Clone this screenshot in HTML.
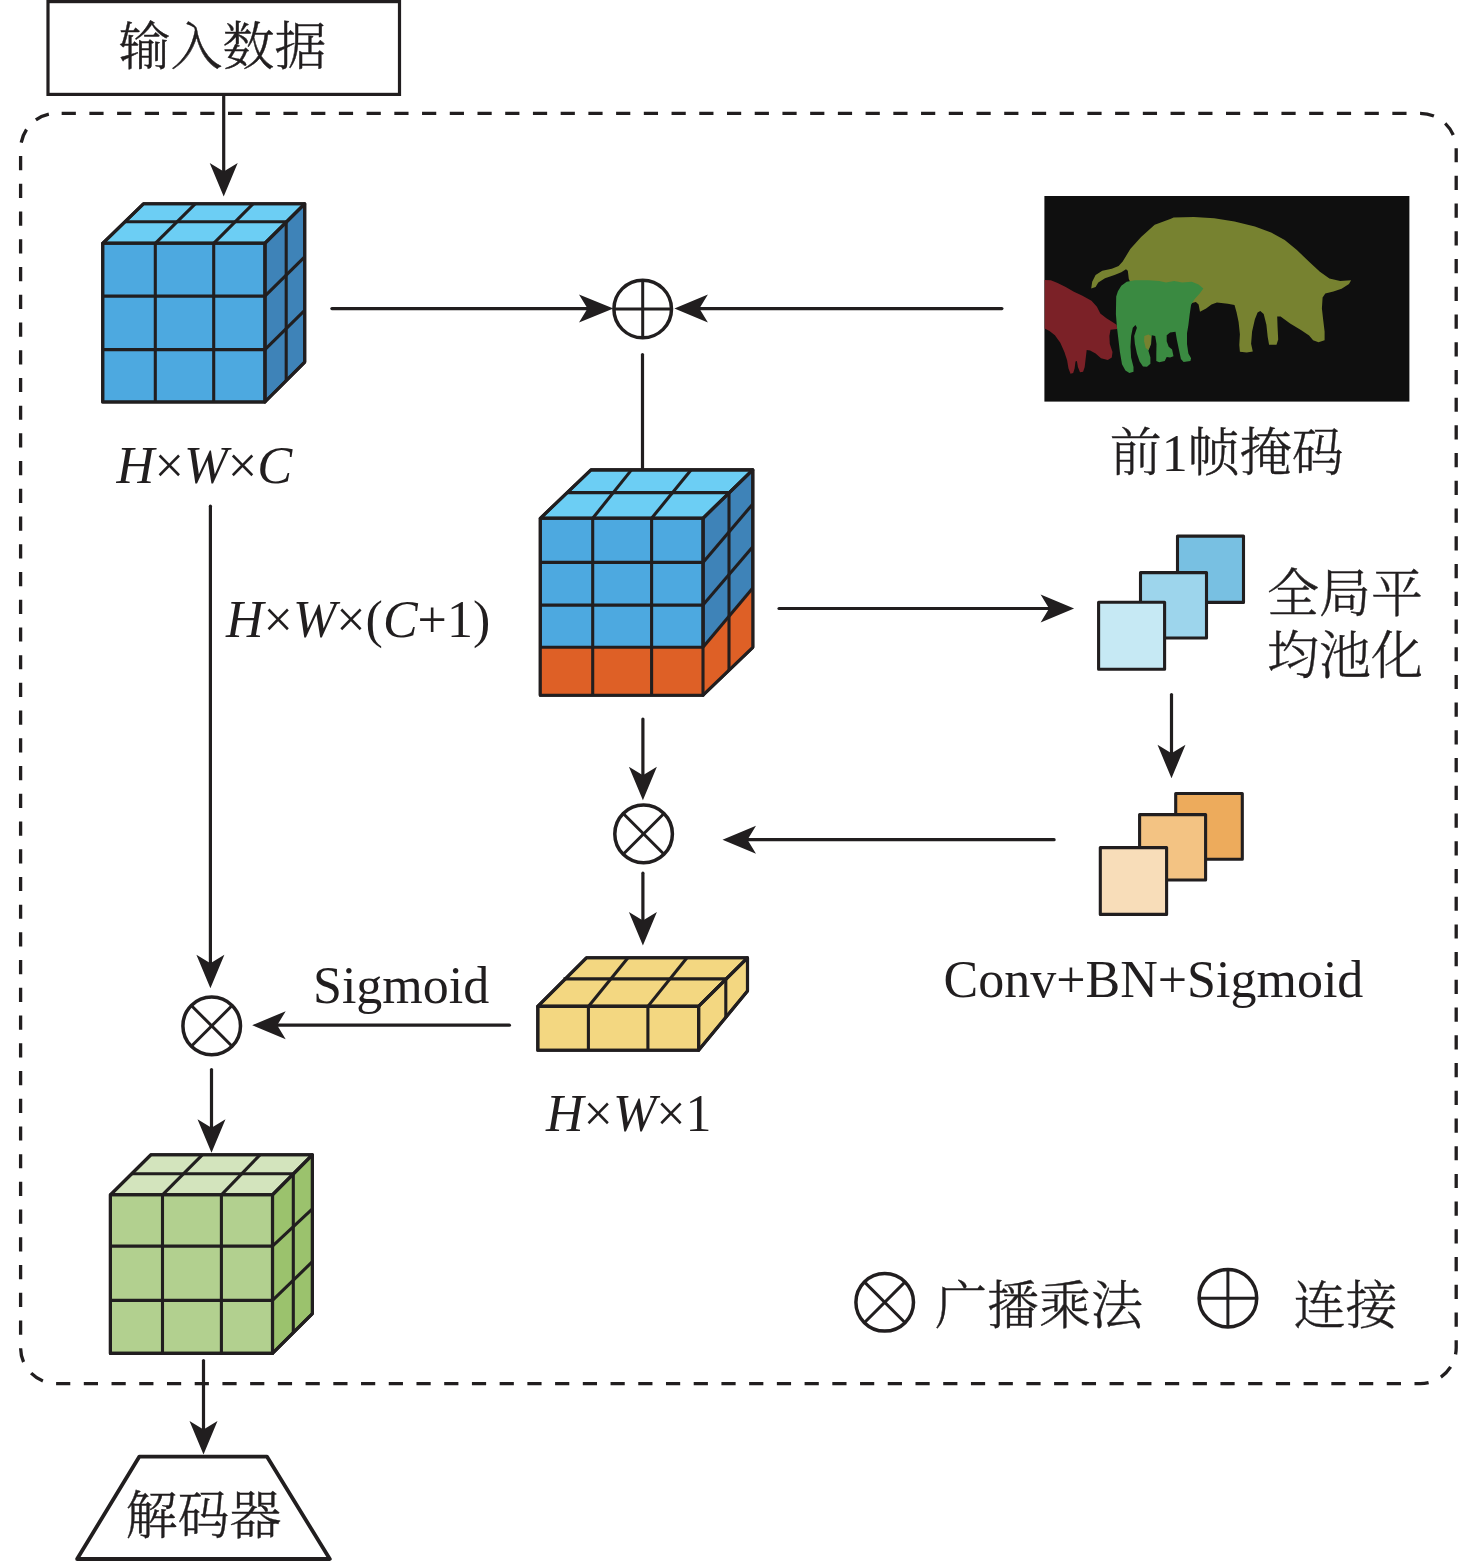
<!DOCTYPE html>
<html lang="zh-CN">
<head>
<meta charset="utf-8">
<title>特征融合注意力模块</title>
<style>
html,body{margin:0;padding:0;background:#fff;}
body{width:1476px;height:1561px;overflow:hidden;}
svg{display:block;}
text{fill:#211e1f;font-size:52px;font-family:"Liberation Serif","Noto Serif CJK SC",serif;}
.cj{font-family:"Liberation Serif","Noto Serif CJK SC",serif;font-size:52px;font-weight:300;stroke:#211e1f;stroke-width:0.4px;}
.lt{font-family:"Liberation Serif","Noto Serif CJK SC",serif;font-size:52px;font-weight:400;}
.it{font-style:italic;}
</style>
</head>
<body>
<svg width="1476" height="1561" viewBox="0 0 1476 1561">
<rect x="0" y="0" width="1476" height="1561" fill="#ffffff"/>
<rect x="20.6" y="113.3" width="1435.6" height="1270.4" rx="36" ry="36" fill="none" stroke="#211e1f" stroke-width="3.3" stroke-dasharray="14.2 13.5226" stroke-dashoffset="22.67"/>
<rect x="48" y="1.6" width="351.5" height="92.8" fill="#fff" stroke="#211e1f" stroke-width="3.2"/>
<text class="cj" x="222.5" y="64.5" text-anchor="middle">输入数据</text>
<line x1="223.7" y1="96.6" x2="223.7" y2="173.4" stroke="#211e1f" stroke-width="3.2" stroke-linecap="round"/><polygon points="223.7,196.4 209.7,162.9 223.7,171.4 237.7,162.9" fill="#211e1f"/>
<polygon points="102.7,243.3 143.4,203.8 304.7,203.8 264.9,243.3" fill="#6ccef4" stroke="#211e1f" stroke-width="3.1" stroke-linejoin="round"/>
<polygon points="264.9,243.3 304.7,203.8 304.7,362.1 264.9,402" fill="#3e83b8" stroke="#211e1f" stroke-width="3.1" stroke-linejoin="round"/>
<polygon points="102.7,243.3 264.9,243.3 264.9,402 102.7,402" fill="#4da9e0" stroke="#211e1f" stroke-width="3.1" stroke-linejoin="round"/>
<line x1="155.3" y1="243.3" x2="155.3" y2="402" stroke="#211e1f" stroke-width="3.1" stroke-linecap="butt"/>
<line x1="213.7" y1="243.3" x2="213.7" y2="402" stroke="#211e1f" stroke-width="3.1" stroke-linecap="butt"/>
<line x1="102.7" y1="296.1" x2="264.9" y2="296.1" stroke="#211e1f" stroke-width="3.1" stroke-linecap="butt"/>
<line x1="102.7" y1="349.6" x2="264.9" y2="349.6" stroke="#211e1f" stroke-width="3.1" stroke-linecap="butt"/>
<line x1="124.5" y1="221.8" x2="286.2" y2="221.8" stroke="#211e1f" stroke-width="3.1" stroke-linecap="butt"/>
<line x1="155.3" y1="243.3" x2="195.2" y2="203.8" stroke="#211e1f" stroke-width="3.1" stroke-linecap="butt"/>
<line x1="213.7" y1="243.3" x2="253" y2="203.8" stroke="#211e1f" stroke-width="3.1" stroke-linecap="butt"/>
<line x1="286.2" y1="221.8" x2="286.2" y2="380.6" stroke="#211e1f" stroke-width="3.1" stroke-linecap="butt"/>
<line x1="264.9" y1="296.1" x2="304.7" y2="256.8" stroke="#211e1f" stroke-width="3.1" stroke-linecap="butt"/>
<line x1="264.9" y1="349.6" x2="304.7" y2="310.3" stroke="#211e1f" stroke-width="3.1" stroke-linecap="butt"/>
<polygon points="102.7,243.3 143.4,203.8 304.7,203.8 304.7,362.1 264.9,402 102.7,402" fill="none" stroke="#211e1f" stroke-width="3.1" stroke-linejoin="round"/>
<polyline points="102.7,243.3 264.9,243.3 304.7,203.8" fill="none" stroke="#211e1f" stroke-width="3.1" stroke-linejoin="round"/>
<line x1="264.9" y1="243.3" x2="264.9" y2="402" stroke="#211e1f" stroke-width="3.1" stroke-linecap="butt"/>
<text class="lt" x="116.6" y="482.8" style="font-size:52.4px"><tspan class="it">H</tspan>×<tspan class="it">W</tspan>×<tspan class="it">C</tspan></text>
<line x1="331.9" y1="308.6" x2="589.5" y2="308.6" stroke="#211e1f" stroke-width="3.2" stroke-linecap="round"/><polygon points="613.4,308.6 579,322.6 587.5,308.6 579,294.6" fill="#211e1f"/>
<line x1="1001.9" y1="308.6" x2="697.4" y2="308.6" stroke="#211e1f" stroke-width="3.2" stroke-linecap="round"/><polygon points="674.4,308.6 707.9,294.6 699.4,308.6 707.9,322.6" fill="#211e1f"/>
<circle cx="642.7" cy="309" r="28.8" fill="#fff" stroke="#211e1f" stroke-width="3.5"/><line x1="613.9" y1="309" x2="671.5" y2="309" stroke="#211e1f" stroke-width="3" stroke-linecap="butt"/><line x1="642.7" y1="280.2" x2="642.7" y2="337.8" stroke="#211e1f" stroke-width="3" stroke-linecap="butt"/>
<line x1="642.5" y1="354.5" x2="642.5" y2="469" stroke="#211e1f" stroke-width="3.2" stroke-linecap="round"/>
<g id="mask"><rect x="1044.4" y="196" width="365" height="205.6" fill="#0f0f0f"/>
<path fill="#778230" d="M1091.2 288.5 L1092.2 281.7 L1095.6 274.9 L1102.3 270.8 L1111.8 268.8 L1118.6 266.1 L1122.7 261.4 L1130.3 249.1 L1141.1 236.9 L1154.7 224.7 L1170.9 218.8 L1173.6 217.6 L1193.9 216.9 L1214.2 218.3 L1234.5 221.4 L1254.9 226.4 L1271.1 232.5 L1284.7 240.0 L1296.9 250.1 L1309.1 261.7 L1319.9 271.8 L1329.4 278.6 L1340.2 281.0 L1351.1 280.2 L1349.0 284.0 L1341.6 288.8 L1333.4 291.5 L1325.3 293.5 L1322.6 297.6 L1321.9 308.5 L1323.3 320.7 L1324.6 331.5 L1324.6 340.3 L1318.5 342.3 L1313.1 340.3 L1309.1 335.6 L1300.9 330.1 L1290.1 323.4 L1280.6 316.6 L1277.2 316.6 L1277.6 327.4 L1278.2 339.6 L1276.5 344.8 L1269.1 344.8 L1267.7 336.9 L1266.4 324.7 L1263.7 313.9 L1260.3 310.9 L1257.6 312.5 L1254.9 319.3 L1252.1 331.5 L1251.1 343.7 L1252.8 351.5 L1246.7 352.5 L1239.9 351.8 L1239.3 345.0 L1239.9 334.2 L1238.6 322.0 L1236.6 312.5 L1234.5 305.1 L1227.8 303.7 L1216.9 302.4 L1211.5 304.4 L1206.1 308.5 L1200.0 311.8 L1198.6 304.4 L1195.9 302.0 L1191.8 303.0 L1180.0 300.0 L1140.0 292.0 L1130.1 281.7 L1128.8 279.0 L1127.8 270.8 L1126.0 269.2 L1121.3 272.2 L1114.5 274.9 L1105.0 278.3 L1098.3 282.4 L1095.6 287.1 Z"/>
<path fill="#7b2127" d="M1044.7 280.1 L1050.8 280.3 L1057.6 283.0 L1065.7 287.1 L1073.9 291.8 L1082.0 295.5 L1091.5 300.7 L1096.9 306.7 L1100.3 313.5 L1106.4 318.3 L1113.2 322.6 L1116.6 324.8 L1117.2 329.1 L1110.5 329.8 L1109.4 335.9 L1109.8 344.0 L1112.5 352.1 L1111.8 357.6 L1107.8 360.0 L1101.0 358.2 L1095.6 353.5 L1090.1 350.5 L1086.7 350.1 L1085.8 357.6 L1084.7 367.0 L1083.1 371.8 L1080.0 372.2 L1077.9 367.0 L1076.9 360.9 L1075.5 361.6 L1074.6 368.4 L1073.2 373.1 L1070.5 373.8 L1068.5 368.4 L1067.1 360.3 L1064.4 352.1 L1060.3 342.7 L1054.9 335.2 L1049.5 331.1 L1044.7 328.4 Z"/>
<path fill="#3a8a41" d="M1116.2 296.6 L1117.9 291.2 L1121.3 285.7 L1126.7 281.7 L1134.9 280.3 L1148.4 280.3 L1159.2 281.0 L1166.0 282.4 L1174.1 281.0 L1182.3 282.4 L1191.8 281.7 L1198.5 284.4 L1203.3 288.5 L1199.9 293.2 L1194.5 299.3 L1191.1 304.7 L1189.7 314.2 L1188.4 325.0 L1187.0 333.2 L1187.0 344.0 L1188.4 353.5 L1191.1 358.2 L1190.4 360.9 L1183.6 361.9 L1180.9 358.9 L1178.9 349.4 L1176.9 339.9 L1175.5 331.8 L1170.1 332.5 L1166.7 335.2 L1166.7 341.3 L1168.7 346.7 L1172.1 349.4 L1173.5 356.2 L1170.1 357.6 L1166.7 356.9 L1164.7 360.9 L1159.2 362.3 L1156.3 360.9 L1156.3 353.5 L1156.5 344.0 L1155.2 335.9 L1151.8 335.2 L1151.1 344.0 L1148.4 350.8 L1150.4 357.6 L1150.4 363.7 L1147.0 366.8 L1143.0 366.4 L1139.6 361.6 L1136.9 353.5 L1134.9 344.0 L1134.2 335.9 L1136.9 327.8 L1135.5 325.0 L1132.8 327.8 L1131.1 335.9 L1130.5 346.7 L1131.1 357.6 L1133.5 367.0 L1133.5 371.8 L1129.4 373.1 L1125.4 370.4 L1122.0 364.3 L1119.9 352.1 L1118.3 338.6 L1117.0 327.8 L1115.9 314.2 Z"/>
<path fill="#778230" d="M1144.3 335.9 L1148.4 334.5 L1151.1 335.9 L1150.8 344.0 L1148.4 350.1 L1145.7 348.1 L1144.1 341.3 Z"/>
</g>
<text class="cj" x="1226.8" y="471" text-anchor="middle">前<tspan class="lt" stroke="none">1</tspan>帧掩码</text>
<polygon points="540.3,518.3 591,469.9 752.8,469.9 703,518.3" fill="#6ccef4" stroke="#211e1f" stroke-width="3.1" stroke-linejoin="round"/>
<polygon points="703,518.3 752.8,469.9 752.8,647.3 703,695.2" fill="#3e83b8" stroke="#211e1f" stroke-width="3.1" stroke-linejoin="round"/>
<polygon points="540.3,518.3 703,518.3 703,695.2 540.3,695.2" fill="#4da9e0" stroke="#211e1f" stroke-width="3.1" stroke-linejoin="round"/>
<rect x="540.3" y="647.2" width="162.7" height="48" fill="#de6026"/>
<polygon points="703,647.2 752.8,588 752.8,647.3 703,695.2" fill="#de6026"/>
<line x1="592.7" y1="518.3" x2="592.7" y2="695.2" stroke="#211e1f" stroke-width="3.1" stroke-linecap="butt"/>
<line x1="651.6" y1="518.3" x2="651.6" y2="695.2" stroke="#211e1f" stroke-width="3.1" stroke-linecap="butt"/>
<line x1="540.3" y1="562.4" x2="703" y2="562.4" stroke="#211e1f" stroke-width="3.1" stroke-linecap="butt"/>
<line x1="540.3" y1="605.1" x2="703" y2="605.1" stroke="#211e1f" stroke-width="3.1" stroke-linecap="butt"/>
<line x1="540.3" y1="647.2" x2="703" y2="647.2" stroke="#211e1f" stroke-width="3.1" stroke-linecap="butt"/>
<line x1="566.8" y1="492.6" x2="729.3" y2="492.6" stroke="#211e1f" stroke-width="3.1" stroke-linecap="butt"/>
<line x1="592.7" y1="518.3" x2="631.5" y2="469.9" stroke="#211e1f" stroke-width="3.1" stroke-linecap="butt"/>
<line x1="651.6" y1="518.3" x2="691" y2="469.9" stroke="#211e1f" stroke-width="3.1" stroke-linecap="butt"/>
<line x1="729" y1="492.6" x2="729" y2="670.2" stroke="#211e1f" stroke-width="3.1" stroke-linecap="butt"/>
<line x1="703" y1="562.4" x2="752.8" y2="504" stroke="#211e1f" stroke-width="3.1" stroke-linecap="butt"/>
<line x1="703" y1="605.1" x2="752.8" y2="546.7" stroke="#211e1f" stroke-width="3.1" stroke-linecap="butt"/>
<line x1="703" y1="647.2" x2="752.8" y2="588" stroke="#211e1f" stroke-width="3.1" stroke-linecap="butt"/>
<polygon points="540.3,518.3 591,469.9 752.8,469.9 752.8,647.3 703,695.2 540.3,695.2" fill="none" stroke="#211e1f" stroke-width="3.1" stroke-linejoin="round"/>
<polyline points="540.3,518.3 703,518.3 752.8,469.9" fill="none" stroke="#211e1f" stroke-width="3.1" stroke-linejoin="round"/>
<line x1="703" y1="518.3" x2="703" y2="695.2" stroke="#211e1f" stroke-width="3.1" stroke-linecap="butt"/>
<text class="lt" x="226" y="637"><tspan class="it">H</tspan>×<tspan class="it">W</tspan>×(<tspan class="it">C</tspan>+1)</text>
<line x1="210.4" y1="506.2" x2="210.4" y2="965.2" stroke="#211e1f" stroke-width="3.2" stroke-linecap="round"/><polygon points="210.4,988.2 196.4,954.7 210.4,963.2 224.4,954.7" fill="#211e1f"/>
<line x1="779" y1="608.5" x2="1051.1" y2="608.5" stroke="#211e1f" stroke-width="3.2" stroke-linecap="round"/><polygon points="1074.1,608.5 1040.6,622.5 1049.1,608.5 1040.6,594.5" fill="#211e1f"/>
<rect x="1177.5" y="536.1" width="66" height="66.3" fill="#78c0e2" stroke="#211e1f" stroke-width="3.1" stroke-linejoin="round"/>
<rect x="1140.5" y="572.6" width="66" height="65.4" fill="#9dd5ec" stroke="#211e1f" stroke-width="3.1" stroke-linejoin="round"/>
<rect x="1098.6" y="602.2" width="66" height="67.1" fill="#c6e9f4" stroke="#211e1f" stroke-width="3.1" stroke-linejoin="round"/>
<text class="cj" x="1267" y="612">全局平</text>
<text class="cj" x="1267" y="674">均池化</text>
<line x1="1171.5" y1="694.6" x2="1171.5" y2="755.3" stroke="#211e1f" stroke-width="3.2" stroke-linecap="round"/><polygon points="1171.5,778.3 1157.5,744.8 1171.5,753.3 1185.5,744.8" fill="#211e1f"/>
<rect x="1175.7" y="793.5" width="66.6" height="65.7" fill="#edab5c" stroke="#211e1f" stroke-width="3.1" stroke-linejoin="round"/>
<rect x="1139.6" y="814.6" width="66" height="65.4" fill="#f3c383" stroke="#211e1f" stroke-width="3.1" stroke-linejoin="round"/>
<rect x="1100.3" y="847.6" width="66.3" height="66.8" fill="#f8ddb9" stroke="#211e1f" stroke-width="3.1" stroke-linejoin="round"/>
<text class="lt" x="943.5" y="997">Conv+BN+Sigmoid</text>
<line x1="1054.1" y1="839.7" x2="745.5" y2="839.7" stroke="#211e1f" stroke-width="3.2" stroke-linecap="round"/><polygon points="722.5,839.7 756,825.7 747.5,839.7 756,853.7" fill="#211e1f"/>
<line x1="642.9" y1="719.1" x2="642.9" y2="777.2" stroke="#211e1f" stroke-width="3.2" stroke-linecap="round"/><polygon points="642.9,800.2 628.9,766.7 642.9,775.2 656.9,766.7" fill="#211e1f"/>
<circle cx="643.6" cy="833.9" r="28.8" fill="#fff" stroke="#211e1f" stroke-width="3.5"/><line x1="623.2" y1="813.5" x2="664" y2="854.3" stroke="#211e1f" stroke-width="3" stroke-linecap="butt"/><line x1="623.2" y1="854.3" x2="664" y2="813.5" stroke="#211e1f" stroke-width="3" stroke-linecap="butt"/>
<line x1="642.9" y1="873.2" x2="642.9" y2="922.4" stroke="#211e1f" stroke-width="3.2" stroke-linecap="round"/><polygon points="642.9,945.4 628.9,911.9 642.9,920.4 656.9,911.9" fill="#211e1f"/>
<polygon points="537.8,1006.4 586.4,957.8 747.5,957.8 698.6,1006.4" fill="#f3d781" stroke="#211e1f" stroke-width="3.1" stroke-linejoin="round"/>
<polygon points="698.6,1006.4 747.5,957.8 747.5,991.1 698.6,1050.3" fill="#f3d781" stroke="#211e1f" stroke-width="3.1" stroke-linejoin="round"/>
<polygon points="537.8,1006.4 698.6,1006.4 698.6,1050.3 537.8,1050.3" fill="#f3d781" stroke="#211e1f" stroke-width="3.1" stroke-linejoin="round"/>
<line x1="588.4" y1="1006.4" x2="588.4" y2="1050.3" stroke="#211e1f" stroke-width="3.1" stroke-linecap="butt"/>
<line x1="647.9" y1="1006.4" x2="647.9" y2="1050.3" stroke="#211e1f" stroke-width="3.1" stroke-linecap="butt"/>
<line x1="563.5" y1="978.9" x2="725.8" y2="978.9" stroke="#211e1f" stroke-width="3.1" stroke-linecap="butt"/>
<line x1="588.4" y1="1006.4" x2="628" y2="957.8" stroke="#211e1f" stroke-width="3.1" stroke-linecap="butt"/>
<line x1="647.9" y1="1006.4" x2="687" y2="957.8" stroke="#211e1f" stroke-width="3.1" stroke-linecap="butt"/>
<line x1="725.8" y1="978.9" x2="725.8" y2="1017.6" stroke="#211e1f" stroke-width="3.1" stroke-linecap="butt"/>
<polygon points="537.8,1006.4 586.4,957.8 747.5,957.8 747.5,991.1 698.6,1050.3 537.8,1050.3" fill="none" stroke="#211e1f" stroke-width="3.1" stroke-linejoin="round"/>
<polyline points="537.8,1006.4 698.6,1006.4 747.5,957.8" fill="none" stroke="#211e1f" stroke-width="3.1" stroke-linejoin="round"/>
<line x1="698.6" y1="1006.4" x2="698.6" y2="1050.3" stroke="#211e1f" stroke-width="3.1" stroke-linecap="butt"/>
<text class="lt" x="546" y="1130.5"><tspan class="it">H</tspan>×<tspan class="it">W</tspan>×1</text>
<line x1="509.4" y1="1025.2" x2="275.2" y2="1025.2" stroke="#211e1f" stroke-width="3.2" stroke-linecap="round"/><polygon points="252.2,1025.2 285.7,1011.2 277.2,1025.2 285.7,1039.2" fill="#211e1f"/>
<text class="lt" x="313" y="1003">Sigmoid</text>
<circle cx="211.7" cy="1025.9" r="28.8" fill="#fff" stroke="#211e1f" stroke-width="3.5"/><line x1="191.3" y1="1005.5" x2="232.1" y2="1046.3" stroke="#211e1f" stroke-width="3" stroke-linecap="butt"/><line x1="191.3" y1="1046.3" x2="232.1" y2="1005.5" stroke="#211e1f" stroke-width="3" stroke-linecap="butt"/>
<line x1="211.5" y1="1069.6" x2="211.5" y2="1129.7" stroke="#211e1f" stroke-width="3.2" stroke-linecap="round"/><polygon points="211.5,1152.7 197.5,1119.2 211.5,1127.7 225.5,1119.2" fill="#211e1f"/>
<polygon points="110.4,1194.8 150.8,1154.8 312.4,1154.8 272.5,1194.8" fill="#d3e4bd" stroke="#211e1f" stroke-width="3.1" stroke-linejoin="round"/>
<polygon points="272.5,1194.8 312.4,1154.8 312.4,1313.6 272.5,1353.4" fill="#9bc26d" stroke="#211e1f" stroke-width="3.1" stroke-linejoin="round"/>
<polygon points="110.4,1194.8 272.5,1194.8 272.5,1353.4 110.4,1353.4" fill="#b2d08f" stroke="#211e1f" stroke-width="3.1" stroke-linejoin="round"/>
<line x1="162.5" y1="1194.8" x2="162.5" y2="1353.4" stroke="#211e1f" stroke-width="3.1" stroke-linecap="butt"/>
<line x1="221.4" y1="1194.8" x2="221.4" y2="1353.4" stroke="#211e1f" stroke-width="3.1" stroke-linecap="butt"/>
<line x1="110.4" y1="1246.1" x2="272.5" y2="1246.1" stroke="#211e1f" stroke-width="3.1" stroke-linecap="butt"/>
<line x1="110.4" y1="1300.4" x2="272.5" y2="1300.4" stroke="#211e1f" stroke-width="3.1" stroke-linecap="butt"/>
<line x1="131.5" y1="1173.7" x2="293.3" y2="1173.7" stroke="#211e1f" stroke-width="3.1" stroke-linecap="butt"/>
<line x1="162.5" y1="1194.8" x2="202.3" y2="1154.8" stroke="#211e1f" stroke-width="3.1" stroke-linecap="butt"/>
<line x1="221.4" y1="1194.8" x2="260" y2="1154.8" stroke="#211e1f" stroke-width="3.1" stroke-linecap="butt"/>
<line x1="293.3" y1="1173.7" x2="293.3" y2="1333" stroke="#211e1f" stroke-width="3.1" stroke-linecap="butt"/>
<line x1="272.5" y1="1246.1" x2="312.4" y2="1208.8" stroke="#211e1f" stroke-width="3.1" stroke-linecap="butt"/>
<line x1="272.5" y1="1300.4" x2="312.4" y2="1261.7" stroke="#211e1f" stroke-width="3.1" stroke-linecap="butt"/>
<polygon points="110.4,1194.8 150.8,1154.8 312.4,1154.8 312.4,1313.6 272.5,1353.4 110.4,1353.4" fill="none" stroke="#211e1f" stroke-width="3.1" stroke-linejoin="round"/>
<polyline points="110.4,1194.8 272.5,1194.8 312.4,1154.8" fill="none" stroke="#211e1f" stroke-width="3.1" stroke-linejoin="round"/>
<line x1="272.5" y1="1194.8" x2="272.5" y2="1353.4" stroke="#211e1f" stroke-width="3.1" stroke-linecap="butt"/>
<line x1="203.5" y1="1360.6" x2="203.5" y2="1431.6" stroke="#211e1f" stroke-width="3.2" stroke-linecap="round"/><polygon points="203.5,1454.6 189.5,1421.1 203.5,1429.6 217.5,1421.1" fill="#211e1f"/>
<polygon points="139.4,1456.6 266.9,1456.6 329.8,1559 77.1,1559" fill="#fff" stroke="#211e1f" stroke-width="3.8" stroke-linejoin="round"/>
<text class="cj" x="203.5" y="1533.5" text-anchor="middle">解码器</text>
<circle cx="884.7" cy="1302.3" r="28.8" fill="#fff" stroke="#211e1f" stroke-width="3.5"/><line x1="864.3" y1="1281.9" x2="905.1" y2="1322.7" stroke="#211e1f" stroke-width="3" stroke-linecap="butt"/><line x1="864.3" y1="1322.7" x2="905.1" y2="1281.9" stroke="#211e1f" stroke-width="3" stroke-linecap="butt"/>
<text class="cj" x="935" y="1324.2">广播乘法</text>
<circle cx="1227.9" cy="1298.2" r="28.8" fill="#fff" stroke="#211e1f" stroke-width="3.5"/><line x1="1199.1" y1="1298.2" x2="1256.7" y2="1298.2" stroke="#211e1f" stroke-width="3" stroke-linecap="butt"/><line x1="1227.9" y1="1269.4" x2="1227.9" y2="1327" stroke="#211e1f" stroke-width="3" stroke-linecap="butt"/>
<text class="cj" x="1293.5" y="1324.2">连接</text>
</svg>
</body>
</html>
